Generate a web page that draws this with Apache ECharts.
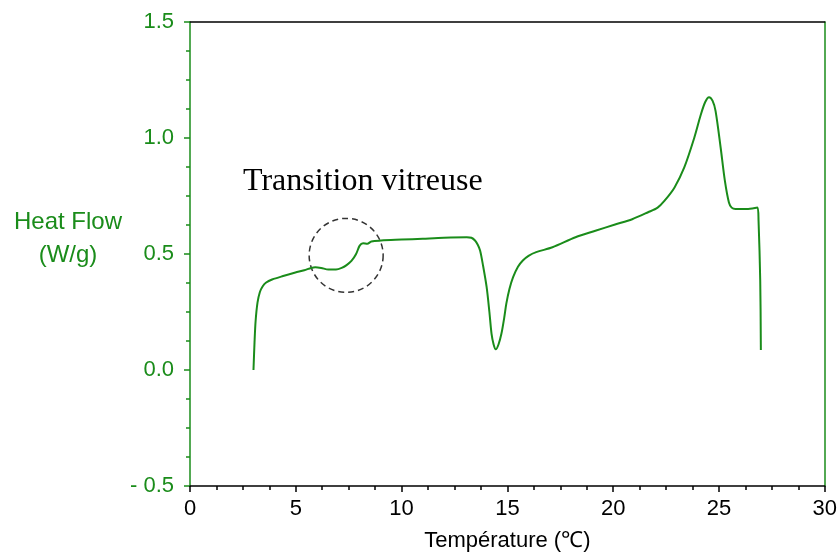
<!DOCTYPE html>
<html><head><meta charset="utf-8">
<script src="https://cdn.jsdelivr.net/npm/echarts@6/dist/echarts.min.js"></script>
<style>html,body{margin:0;padding:0;background:#fff}#c{width:840px;height:557px}</style>
</head><body><div id="c"></div>
<script>
const temperature = [3.0,3.05,3.1,3.19,3.3,3.43,3.6,3.88,4.4,4.98,5.4,5.73,5.92,6.2,6.54,6.9,7.17,7.4,7.63,7.85,8.02,8.18,8.38,8.57,9.03,10,11,12,13.08,13.3,13.47,13.6,13.71,13.85,14.02,14.15,14.25,14.35,14.45,14.58,14.72,14.85,14.95,15.1,15.27,15.5,15.73,16.0,16.36,17.13,18.22,19.16,20.09,20.9,21.65,22.1,22.43,22.9,23.36,23.83,24.14,24.35,24.53,24.7,24.84,25.08,25.28,25.47,25.6,25.78,26.32,26.82,26.87,26.95,26.98];
const heatFlow = [0.0,0.12,0.21,0.29,0.335,0.36,0.377,0.39,0.405,0.42,0.43,0.44,0.443,0.44,0.433,0.433,0.44,0.452,0.47,0.5,0.536,0.546,0.544,0.554,0.558,0.562,0.566,0.57,0.572,0.57,0.558,0.54,0.515,0.45,0.357,0.25,0.157,0.11,0.089,0.11,0.157,0.225,0.286,0.35,0.40,0.445,0.472,0.492,0.508,0.529,0.572,0.60,0.627,0.65,0.68,0.70,0.73,0.787,0.873,1.00,1.10,1.155,1.176,1.16,1.116,0.958,0.815,0.722,0.70,0.694,0.694,0.70,0.644,0.386,0.086];
const xTicks = [0,5,10,15,20,25,30];
const yTicks = [-0.5,0.0,0.5,1.0,1.5];
const glassCircle = [[7.38,0.494]];
const green = '#1a8c1a';
const chart = echarts.init(document.getElementById('c'));
chart.setOption({
  animation:false,
  grid:{left:190,right:8,top:22,bottom:70,containLabel:false},
  xAxis:[{type:'value',min:0,max:30,interval:5,
    axisLine:{onZero:false,lineStyle:{color:'#000',width:1.5}},
    axisTick:{length:6,lineStyle:{color:'#000',width:1.5}},
    minorTick:{show:true,splitNumber:4,length:4,lineStyle:{color:'#000',width:1.5}},
    splitLine:{show:false},
    axisLabel:{color:'#000',fontFamily:'Liberation Sans',fontSize:22,margin:12},
    name:'Température (℃)',nameLocation:'middle',nameGap:44,
    nameTextStyle:{color:'#000',fontFamily:'Liberation Sans',fontSize:22}},
    {type:'value',position:'top',min:0,max:30,axisLine:{show:true,onZero:false,lineStyle:{color:'#000',width:1.5}},axisTick:{show:false},axisLabel:{show:false},splitLine:{show:false}}],
  yAxis:[{type:'value',min:-0.5,max:1.5,interval:0.5,
    axisLine:{show:true,onZero:false,lineStyle:{color:green,width:1.5}},
    axisTick:{show:true,length:6,lineStyle:{color:green,width:1.5}},
    minorTick:{show:true,splitNumber:4,length:4,lineStyle:{color:green,width:1.5}},
    splitLine:{show:false},
    axisLabel:{color:green,fontFamily:'Liberation Sans',fontSize:22,margin:16,
      formatter:v=>v<0?'- '+Math.abs(v).toFixed(1):v.toFixed(1)}},
    {type:'value',position:'right',min:-0.5,max:1.5,axisLine:{show:true,onZero:false,lineStyle:{color:green,width:1.5}},axisTick:{show:false},axisLabel:{show:false},splitLine:{show:false}}],
  graphic:[
    {type:'text',x:68,y:206,style:{text:'Heat Flow\n(W/g)',fill:green,font:'24px "Liberation Sans"',align:'center',lineHeight:33}},
    {type:'text',x:243,y:166,style:{text:'Transition vitreuse',fill:'#000',font:'32px "Liberation Serif"'}}
  ],
  series:[
    {type:'line',data:temperature.map((t,i)=>[t,heatFlow[i]]),smooth:0.3,showSymbol:false,
     lineStyle:{color:green,width:2},z:3},
    {type:'scatter',data:glassCircle,symbolSize:74,silent:true,
     itemStyle:{color:'rgba(0,0,0,0)',borderColor:'#000',borderWidth:1.5,borderType:[6,4]},z:2}
  ]
});
</script></body></html>
